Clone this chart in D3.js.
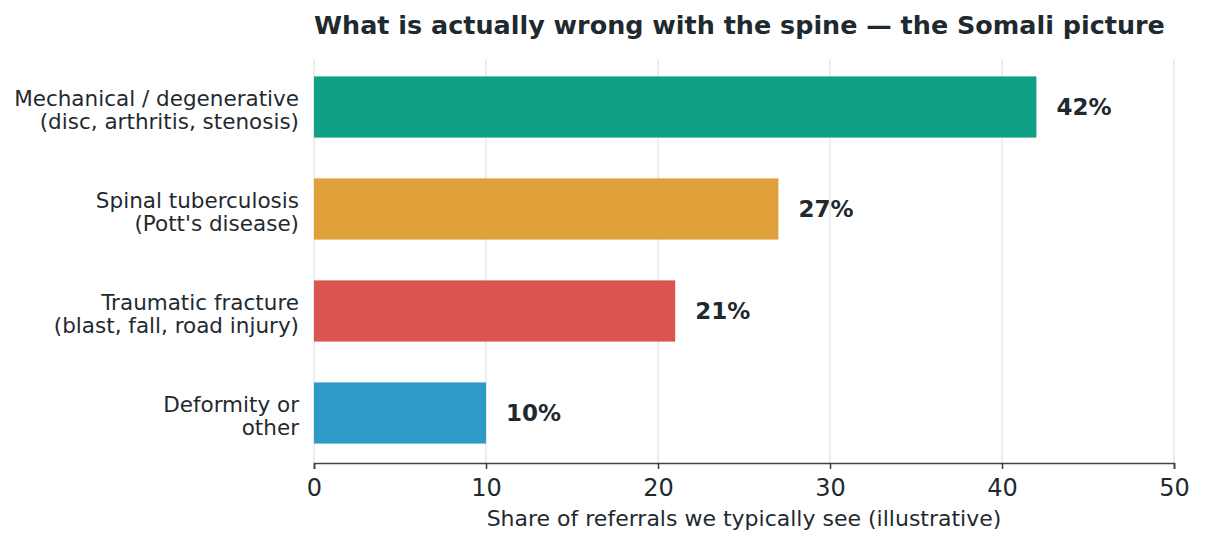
<!DOCTYPE html>
<html><head><meta charset="utf-8">
<script src="https://cdn.jsdelivr.net/npm/d3@7"></script>
<style>body{margin:0;background:#fff;font-family:"DejaVu Sans",sans-serif;}</style>
</head><body><svg id="c" width="1205" height="545"></svg>
<script>
const categories = [
  ["Mechanical / degenerative", "(disc, arthritis, stenosis)"],
  ["Spinal tuberculosis", "(Pott's disease)"],
  ["Traumatic fracture", "(blast, fall, road injury)"],
  ["Deformity or", "other"]
];
const values = [42, 27, 21, 10];
const colors = ["#10a085", "#e0a03a", "#db5450", "#2e9bc6"];
const xTicks = [0, 10, 20, 30, 40, 50];
const title = "What is actually wrong with the spine \u2014 the Somali picture";
const xLabel = "Share of referrals we typically see (illustrative)";

const svg = d3.select("#c");
const L = 314, R = 1174, T = 59, B = 463;
const txt = "#1f2a30";
const x = d3.scaleLinear().domain([0, 50]).range([L, R]);
const y = d3.scaleBand().domain(d3.range(categories.length)).range([56, 464]).paddingInner(0.4).paddingOuter(0.2);

// grid
svg.append("g").selectAll("line").data(xTicks).join("line")
  .attr("x1", d => x(d)).attr("x2", d => x(d)).attr("y1", T).attr("y2", B)
  .attr("stroke", "#e0e0e0").attr("stroke-width", 1.2);

// bars
svg.append("g").selectAll("rect").data(values).join("rect")
  .attr("x", x(0)).attr("y", (d, i) => y(i))
  .attr("width", d => x(d) - x(0)).attr("height", y.bandwidth())
  .attr("fill", (d, i) => colors[i]);

// value labels
svg.append("g").selectAll("text").data(values).join("text")
  .attr("x", d => x(d) + 20).attr("y", (d, i) => y(i) + y.bandwidth() / 2)
  .attr("dy", "0.36em").attr("font-size", 23).attr("font-weight", "bold")
  .attr("fill", txt).text(d => d + "%");

// category labels
const cl = svg.append("g").selectAll("text").data(categories).join("text")
  .attr("x", 299).attr("y", (d, i) => y(i) + y.bandwidth() / 2 - 1)
  .attr("text-anchor", "end").attr("font-size", 21.5).attr("fill", txt);
cl.each(function(d) {
  const t = d3.select(this);
  d.forEach((line, j) => {
    t.append("tspan").attr("x", 299).attr("dy", j === 0 ? 0 : 23).text(line);
  });
});

// x axis
const ax = svg.append("g").attr("transform", `translate(0,${B})`)
  .call(d3.axisBottom(x).tickValues(xTicks).tickSize(6).tickPadding(10).tickFormat(d3.format("d")));
ax.select(".domain").attr("stroke", "#3d4548").attr("stroke-width", 1.6);
ax.selectAll(".tick line").attr("stroke", "#3d4548").attr("stroke-width", 1.6);
ax.selectAll(".tick text").attr("font-size", 24).attr("fill", txt).attr("font-family", "DejaVu Sans");

svg.append("text").attr("x", (L + R) / 2).attr("y", 526).attr("text-anchor", "middle")
  .attr("font-size", 22).attr("fill", txt).text(xLabel);

svg.append("text").attr("x", L).attr("y", 34).attr("font-size", 25.45).attr("font-weight", "bold")
  .attr("fill", txt).text(title);
</script></body></html>
